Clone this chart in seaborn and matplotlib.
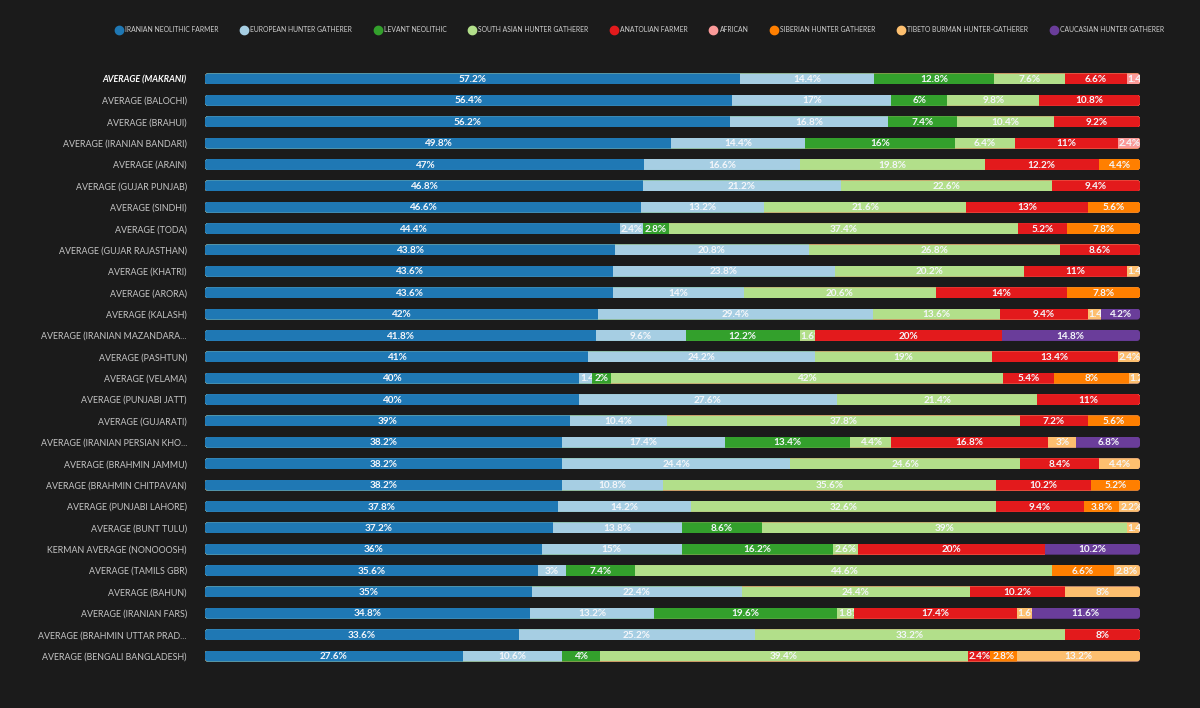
import numpy as np
import pandas as pd
import matplotlib
matplotlib.use("Agg")
import matplotlib.pyplot as plt
from matplotlib.patches import Rectangle, FancyBboxPatch
from matplotlib.lines import Line2D
import seaborn as sns

populations = [
    "AVERAGE (MAKRANI)", "AVERAGE (BALOCHI)", "AVERAGE (BRAHUI)", "AVERAGE (IRANIAN BANDARI)",
    "AVERAGE (ARAIN)", "AVERAGE (GUJAR PUNJAB)", "AVERAGE (SINDHI)", "AVERAGE (TODA)",
    "AVERAGE (GUJAR RAJASTHAN)", "AVERAGE (KHATRI)", "AVERAGE (ARORA)", "AVERAGE (KALASH)",
    "AVERAGE (IRANIAN MAZANDARA...", "AVERAGE (PASHTUN)", "AVERAGE (VELAMA)", "AVERAGE (PUNJABI JATT)",
    "AVERAGE (GUJARATI)", "AVERAGE (IRANIAN PERSIAN KHO...", "AVERAGE (BRAHMIN JAMMU)",
    "AVERAGE (BRAHMIN CHITPAVAN)", "AVERAGE (PUNJABI LAHORE)", "AVERAGE (BUNT TULU)",
    "KERMAN AVERAGE (NONOOOSH)", "AVERAGE (TAMILS GBR)", "AVERAGE (BAHUN)", "AVERAGE (IRANIAN FARS)",
    "AVERAGE (BRAHMIN UTTAR PRAD...", "AVERAGE (BENGALI BANGLADESH)",
]

components = [
    "IRANIAN NEOLITHIC FARMER", "EUROPEAN HUNTER GATHERER", "LEVANT NEOLITHIC",
    "SOUTH ASIAN HUNTER GATHERER", "ANATOLIAN FARMER", "AFRICAN", "SIBERIAN HUNTER GATHERER",
    "TIBETO BURMAN HUNTER-GATHERER", "CAUCASIAN HUNTER GATHERER",
]

iranian_neolithic = [57.2, 56.4, 56.2, 49.8, 47, 46.8, 46.6, 44.4, 43.8, 43.6, 43.6, 42, 41.8, 41,
                     40, 40, 39, 38.2, 38.2, 38.2, 37.8, 37.2, 36, 35.6, 35, 34.8, 33.6, 27.6]
european_hg = [14.4, 17, 16.8, 14.4, 16.6, 21.2, 13.2, 2.4, 20.8, 23.8, 14, 29.4, 9.6, 24.2,
               1.4, 27.6, 10.4, 17.4, 24.4, 10.8, 14.2, 13.8, 15, 3, 22.4, 13.2, 25.2, 10.6]
levant_neolithic = [12.8, 6, 7.4, 16, 0, 0, 0, 2.8, 0, 0, 0, 0, 12.2, 0,
                    2, 0, 0, 13.4, 0, 0, 0, 8.6, 16.2, 7.4, 0, 19.6, 0, 4]
south_asian_hg = [7.6, 9.8, 10.4, 6.4, 19.8, 22.6, 21.6, 37.4, 26.8, 20.2, 20.6, 13.6, 1.6, 19,
                  42, 21.4, 37.8, 4.4, 24.6, 35.6, 32.6, 39, 2.6, 44.6, 24.4, 1.8, 33.2, 39.4]
anatolian_farmer = [6.6, 10.8, 9.2, 11, 12.2, 9.4, 13, 5.2, 8.6, 11, 14, 9.4, 20, 13.4,
                    5.4, 11, 7.2, 16.8, 8.4, 10.2, 9.4, 0, 20, 0, 10.2, 17.4, 8, 2.4]
african = [1.4, 0, 0, 2.4, 0, 0, 0, 0, 0, 0, 0, 0, 0, 0,
           0, 0, 0, 0, 0, 0, 0, 0, 0, 0, 0, 0, 0, 0]
siberian_hg = [0, 0, 0, 0, 4.4, 0, 5.6, 7.8, 0, 0, 7.8, 0, 0, 0,
               8, 0, 5.6, 0, 0, 5.2, 3.8, 0, 0, 6.6, 0, 0, 0, 2.8]
tibeto_burman_hg = [0, 0, 0, 0, 0, 0, 0, 0, 0, 1.4, 0, 1.4, 0, 2.4,
                    1.2, 0, 0, 3, 4.4, 0, 2.2, 1.4, 0, 2.8, 8, 1.6, 0, 13.2]
caucasian_hg = [0, 0, 0, 0, 0, 0, 0, 0, 0, 0, 0, 4.2, 14.8, 0,
                0, 0, 0, 6.8, 0, 0, 0, 0, 10.2, 0, 0, 11.6, 0, 0]

series = [iranian_neolithic, european_hg, levant_neolithic, south_asian_hg, anatolian_farmer,
          african, siberian_hg, tibeto_burman_hg, caucasian_hg]

df = pd.DataFrame(dict(zip(components, series)), index=populations)
cum = df.cumsum(axis=1)

BG = "#1b1b1b"
paired = sns.color_palette("Paired", 12)
colors = [paired[1], paired[0], paired[3], paired[2], paired[5], paired[4], paired[7], paired[6], paired[9]]

sns.set_theme(style="dark")
plt.rcParams["font.family"] = ["Lato", "DejaVu Sans"]

fig = plt.figure(figsize=(12, 7.08), dpi=100, facecolor=BG)
ax = fig.add_axes([205 / 1200, 1 - 666.7 / 708, 935 / 1200, 598.4 / 708])
ax.set_facecolor(BG)

BAR_H = 0.515
# stacked layers: from the last cumulative (back) to the first (front)
for k in range(len(components) - 1, -1, -1):
    layer = pd.DataFrame({"pop": populations, "val": cum.iloc[:, k].values})
    sns.barplot(data=layer, x="val", y="pop", orient="h", color=colors[k], saturation=1,
                width=BAR_H, ax=ax, linewidth=0, order=populations)

ax.set_xlim(0, 100)
ax.set_ylim(len(populations) - 0.5, -0.5)
ax.set_xlabel("")
ax.set_ylabel("")
ax.set_xticks([])
for s in ax.spines.values():
    s.set_visible(False)
ax.grid(False)

# rounded ends: clip each bar patch of a row by a rounded box of that row
px_x = 100 / 935.0
px_y = len(populations) / 598.4
round_boxes = []
for i in range(len(populations)):
    tot = cum.iloc[i, -1]
    fb = FancyBboxPatch((0, i - BAR_H / 2), tot, BAR_H,
                        boxstyle=f"round,pad=0,rounding_size={3 * px_x}",
                        mutation_aspect=px_y / px_x, transform=ax.transData,
                        facecolor="none", edgecolor="none")
    ax.add_patch(fb)
    round_boxes.append(fb)
for p in list(ax.patches):
    if isinstance(p, Rectangle):
        yc = p.get_y() + p.get_height() / 2
        i = int(round(yc))
        if 0 <= i < len(populations):
            p.set_clip_path(round_boxes[i])

# y tick labels
ax.set_yticks(range(len(populations)))
ax.set_yticklabels(populations)
ax.tick_params(axis="y", length=0, pad=13, labelsize=6.4, labelcolor="#c4c4c4")
for j, t in enumerate(ax.get_yticklabels()):
    if j == 0:
        t.set_color("white")
        t.set_fontweight("bold")
        t.set_fontstyle("italic")

# segment value labels, clipped to their segment
texts = []
for i, pop in enumerate(populations):
    for k, comp in enumerate(components):
        v = df.iloc[i, k]
        if v <= 0:
            continue
        left = cum.iloc[i, k] - v
        lab = f"{v:g}%"
        t = ax.text(left + v / 2, i + 0.03, lab, ha="center", va="center", color="#f4f6fa",
                    fontsize=7.2, fontweight="bold", clip_on=True)
        clip = Rectangle((left, i - BAR_H / 2), v, BAR_H, transform=ax.transData,
                         facecolor="none", edgecolor="none")
        ax.add_patch(clip)
        t.set_clip_path(clip)
        texts.append((t, left, v))

fig.canvas.draw()
r = fig.canvas.get_renderer()
for t, left, v in texts:
    w = t.get_window_extent(r).width
    seg_px = v / px_x
    if w + 2 > seg_px:
        t.set_ha("left")
        t.set_x(left + 0.1)

# legend
handles = [Line2D([0], [0], marker="o", linestyle="", markersize=6, markerfacecolor=c,
                  markeredgecolor=c) for c in colors]
leg = fig.legend(handles, components, loc="center right", bbox_to_anchor=(0.975, 1 - 30 / 708),
                 ncol=9, frameon=False, fontsize=4.9, labelcolor="#d0d0d0",
                 handletextpad=0.4, columnspacing=3.25, handlelength=1.0)

fig.savefig("out.png", dpi=100, facecolor=BG)
